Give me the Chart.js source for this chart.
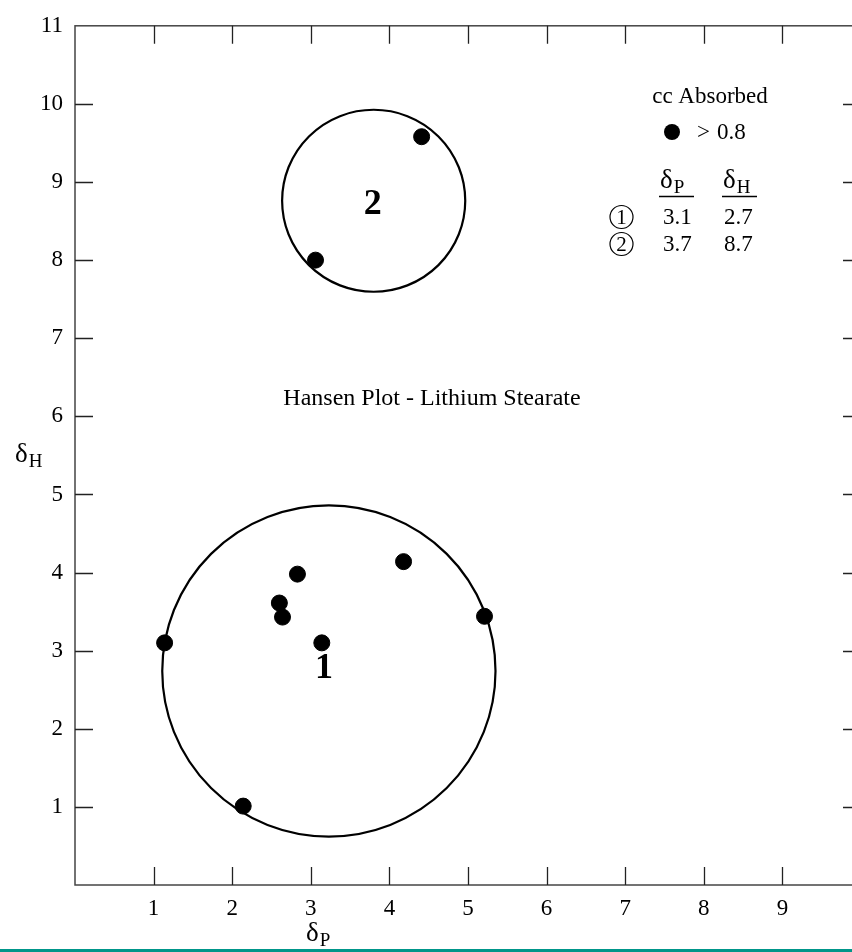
<!DOCTYPE html>
<html>
<head>
<meta charset="utf-8">
<script src="https://cdn.jsdelivr.net/npm/chart.js@4"></script>
<style>
  html, body { margin: 0; padding: 0; background: #fff; overflow: hidden; }
  body { width: 852px; height: 952px; position: relative; }
  #plot { position: absolute; left: 0; top: 0; }
  #rule { position: absolute; left: 0; top: 949px; width: 852px; height: 3px; background: #00968a; }
</style>
</head>
<body>
<canvas id="plot" width="870" height="952"></canvas>
<div id="rule"></div>
<script>
// solvents with cc absorbed > 0.8
const deltaP = [1.14, 2.14, 2.60, 2.64, 2.83, 3.14, 4.18, 5.21, 3.06, 4.41];
const deltaH = [3.10, 1.01, 3.61, 3.43, 3.98, 3.10, 4.14, 3.44, 8.00, 9.58];

// solubility spheres as drawn
const circleNames = ['1', '2'];
const circleP = [3.23, 3.80];
const circleH = [2.74, 8.76];
const circleR = [2.12, 1.165];

// table in the key
const tableP = ['3.1', '3.7'];
const tableH = ['2.7', '8.7'];

const xTicks = [1, 2, 3, 4, 5, 6, 7, 8, 9];
const yTicks = [1, 2, 3, 4, 5, 6, 7, 8, 9, 10, 11];

const serif = '"Liberation Serif", "Times New Roman", serif';

const overlay = {
  id: 'overlay',
  beforeDatasetsDraw(chart) {
    const { ctx, chartArea: a, scales: { x, y } } = chart;
    ctx.save();
    // frame
    ctx.strokeStyle = '#444';
    ctx.lineWidth = 1.5;
    ctx.strokeRect(a.left, a.top, a.right - a.left, a.bottom - a.top);
    // inward ticks
    ctx.strokeStyle = '#222';
    ctx.lineWidth = 1.3;
    ctx.beginPath();
    xTicks.forEach(v => {
      const px = Math.round(x.getPixelForValue(v)) + 0.5;
      ctx.moveTo(px, a.bottom); ctx.lineTo(px, a.bottom - 18);
      ctx.moveTo(px, a.top); ctx.lineTo(px, a.top + 18);
    });
    yTicks.slice(0, -1).forEach(v => {
      const py = Math.round(y.getPixelForValue(v)) + 0.5;
      ctx.moveTo(a.left, py); ctx.lineTo(a.left + 18, py);
      ctx.moveTo(a.right, py); ctx.lineTo(a.right - 18, py);
    });
    ctx.stroke();

    // spheres
    ctx.strokeStyle = '#000';
    ctx.lineWidth = 2.2;
    circleNames.forEach((name, i) => {
      const cx = x.getPixelForValue(circleP[i]);
      const cy = y.getPixelForValue(circleH[i]);
      const rx = x.getPixelForValue(circleP[i] + circleR[i]) - cx;
      const ry = cy - y.getPixelForValue(circleH[i] + circleR[i]);
      ctx.beginPath();
      ctx.ellipse(cx, cy, rx, ry, 0, 0, Math.PI * 2);
      ctx.stroke();
    });
    ctx.restore();
  },
  afterDraw(chart) {
    const { ctx, scales: { x, y } } = chart;
    ctx.save();
    ctx.fillStyle = '#000';
    ctx.strokeStyle = '#000';

    // sphere numbers
    ctx.font = 'bold 36px ' + serif;
    ctx.textAlign = 'center';
    ctx.textBaseline = 'alphabetic';
    const numOffset = [[-5, 7], [-1, 13]];
    circleNames.forEach((name, i) => {
      ctx.fillText(name,
        x.getPixelForValue(circleP[i]) + numOffset[i][0],
        y.getPixelForValue(circleH[i]) + numOffset[i][1]);
    });

    // title inside plot
    ctx.font = '24px ' + serif;
    ctx.fillText('Hansen Plot - Lithium Stearate', 432, 405);

    // key
    ctx.font = '23px ' + serif;
    ctx.fillText('cc Absorbed', 710, 103);
    ctx.beginPath();
    ctx.arc(672, 132, 8, 0, Math.PI * 2);
    ctx.fill();
    ctx.textAlign = 'left';
    ctx.fillText('>', 697, 139);
    ctx.fillText('0.8', 717, 139);

    const sub = (main, s, left, base, big, small) => {
      ctx.font = big + 'px ' + serif;
      ctx.fillText(main, left, base);
      const w = ctx.measureText(main).width;
      ctx.font = small + 'px ' + serif;
      ctx.fillText(s, left + w + 1, base + 5);
    };
    sub('δ', 'P', 660, 188, 27, 19);
    sub('δ', 'H', 723, 188, 27, 19);
    ctx.lineWidth = 1.3;
    ctx.beginPath();
    ctx.moveTo(659, 196.5); ctx.lineTo(694, 196.5);
    ctx.moveTo(722, 196.5); ctx.lineTo(757, 196.5);
    ctx.stroke();

    const rowBase = [224, 251];
    ctx.lineWidth = 1.2;
    circleNames.forEach((name, i) => {
      const cy = rowBase[i] - 7;
      ctx.beginPath();
      ctx.arc(621.5, cy, 11.5, 0, Math.PI * 2);
      ctx.stroke();
      ctx.font = '21px ' + serif;
      ctx.textAlign = 'center';
      ctx.fillText(name, 621.5, rowBase[i]);
      ctx.font = '23px ' + serif;
      ctx.textAlign = 'left';
      ctx.fillText(tableP[i], 663, rowBase[i]);
      ctx.fillText(tableH[i], 724, rowBase[i]);
    });

    // axis titles
    sub('δ', 'H', 15, 462, 27, 19);
    sub('δ', 'P', 306, 941, 27, 19);
    ctx.restore();
  }
};

new Chart(document.getElementById('plot'), {
  type: 'scatter',
  data: {
    datasets: [{
      data: deltaP.map((p, i) => ({ x: p, y: deltaH[i] })),
      backgroundColor: '#000',
      borderColor: '#000',
      pointRadius: 8,
      pointHoverRadius: 8
    }]
  },
  options: {
    responsive: false,
    animation: false,
    layout: { padding: { top: 20, right: 8, left: 0, bottom: 0 } },
    plugins: { legend: { display: false }, tooltip: { enabled: false } },
    scales: {
      x: {
        type: 'linear', min: 0, max: 10,
        grid: { display: false, drawTicks: false },
        border: { display: false },
        afterFit: s => { s.height = 67; },
        afterBuildTicks: s => { s.ticks = xTicks.map(v => ({ value: v })); },
        ticks: {
          autoSkip: false, maxRotation: 0, padding: 10, color: '#000',
          font: { family: serif, size: 23 }
        }
      },
      y: {
        type: 'linear', min: 0, max: 11,
        grid: { display: false, drawTicks: false },
        border: { display: false },
        afterFit: s => { s.width = 75; },
        afterBuildTicks: s => { s.ticks = yTicks.map(v => ({ value: v })); },
        ticks: {
          autoSkip: false, padding: 12, color: '#000',
          font: { family: serif, size: 23 }
        }
      }
    }
  },
  plugins: [overlay]
});
</script>
</body>
</html>
